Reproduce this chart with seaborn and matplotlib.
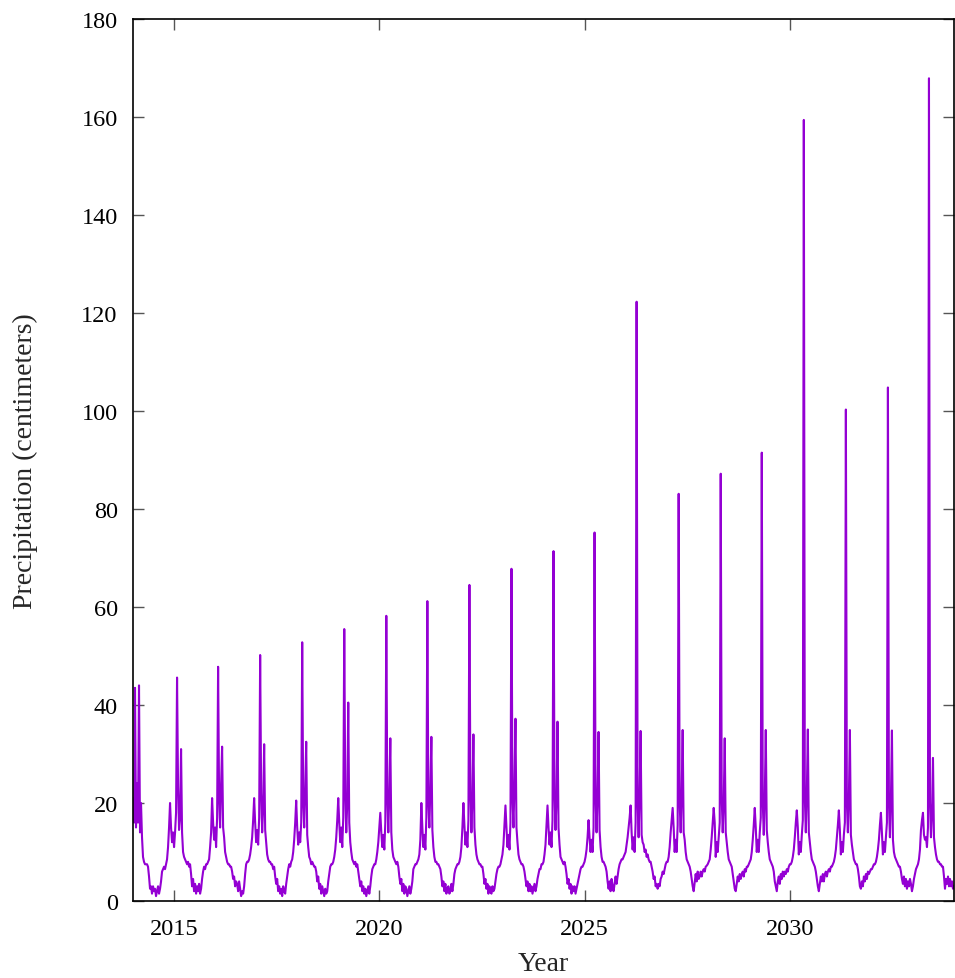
import numpy as np
import pandas as pd
import matplotlib
matplotlib.use("Agg")
import matplotlib.pyplot as plt
import seaborn as sns

# Regular time grid: samples per year, starting 2014.0
start_year = 2014
samples_per_year = 41

# Precipitation (cm), one list per rainy-season cycle
lead_in = [21, 16]
season_2014 = [43.5, 15, 24, 16, 44, 14, 20, 13, 9, 8, 7.5, 7.5, 7.5, 7, 5, 2.5, 3, 1.5, 3, 2, 2.5, 1, 2, 3, 1.5, 2.5, 4, 6, 6.5, 7, 6.5, 7.5, 8.5, 11, 15, 20, 15, 12, 14, 11, 14, 18]
season_2015 = [45.6, 23.5, 14.5, 17, 31, 14, 10, 9, 8.5, 8, 7.5, 8, 7, 7.5, 5.5, 3, 4.5, 2, 3.5, 1.5, 3, 2, 3.5, 1.5, 2.5, 4.5, 6, 7, 6.5, 7.5, 7.5, 8, 8.5, 11, 14, 21, 16, 12.5, 15, 11, 17]
season_2016 = [47.8, 21, 15, 24, 31.5, 15, 13, 10, 9, 8, 7.5, 7.5, 7, 7, 6, 4.5, 5, 3, 4, 3.5, 2, 4, 2.5, 1, 2, 1.5, 3, 5.5, 7.5, 8, 8, 8.5, 9.5, 11, 13, 16.5, 21, 16, 12, 14.5, 11.5, 17]
season_2017 = [50.2, 22, 14, 19, 32, 14.5, 12, 9.5, 8.5, 8, 8, 7.5, 7.5, 6.5, 7, 5, 3.5, 4.5, 2, 3, 1.5, 2.5, 1, 3, 2, 1.5, 3.5, 5, 6.5, 7.5, 7, 8, 8.5, 10, 12.5, 16, 20.5, 15, 11.5, 14, 12, 16]
season_2018 = [52.8, 20, 15, 23, 32.5, 13.5, 11, 9, 8.5, 7.5, 8, 7.5, 7, 7, 6, 4, 5, 2.5, 3.5, 1.5, 3, 2, 1, 2.5, 1.5, 2, 4, 5.5, 7, 7.5, 7.5, 8, 9, 10.5, 13, 16.5, 21, 16, 12, 15, 11, 17]
season_2019 = [55.5, 22, 14, 20, 40.5, 16, 12, 10, 8.5, 8, 7.5, 8, 7, 7.5, 6, 4.5, 3, 4, 2, 3, 1.5, 2.5, 1, 2, 3, 1.5, 3, 5, 6.5, 7, 7.5, 7.5, 8.5, 10, 12, 15, 18, 14, 11, 13.5, 10.5, 16]
season_2020 = [58.2, 21, 14, 22, 33.2, 14, 10.5, 9, 8.5, 8, 7.5, 8, 7, 5, 3.5, 4.5, 2, 3.5, 1.5, 3, 2.5, 1, 2, 3, 1.5, 2.5, 4, 6.5, 7, 7.5, 7.5, 8, 8.5, 9.5, 12.5, 20, 15, 11, 13.5, 10.5, 17]
season_2021 = [61.2, 20, 15, 23, 33.5, 14.5, 11, 9, 8, 8, 7.5, 7.5, 7, 6.5, 5, 3, 4, 2, 3.5, 1.5, 2.5, 3, 1.5, 2, 3.5, 2, 3.5, 5.5, 6.5, 7, 7.5, 7.5, 8, 9, 11, 15, 20, 15.5, 11.5, 14, 11, 16.5]
season_2022 = [64.5, 22, 14, 21, 34, 15, 11.5, 9.5, 8.5, 8, 7.5, 7.5, 7, 7, 5.5, 3.5, 4.5, 2.5, 3.5, 1.5, 3, 2, 1.5, 3, 2, 2.5, 4, 5.5, 6.5, 7, 7, 7.5, 8.5, 9.5, 11.5, 15.5, 19.5, 15, 11, 13.5, 10.5, 16]
season_2023 = [67.8, 21, 15, 24, 37.2, 15, 12, 9.5, 8.5, 8, 7.5, 7.5, 7, 6, 4.5, 3, 4, 2, 3.5, 2, 3, 1.5, 2.5, 3.5, 2, 3, 4.5, 5.5, 6.5, 6.5, 7.5, 7.5, 8, 9.5, 11.5, 15.5, 19.5, 15, 11.5, 14, 11, 16.5]
season_2024 = [71.4, 22, 14.5, 21, 36.6, 15, 11.5, 9, 8.5, 8, 7.5, 8, 7, 5.5, 3.5, 4.5, 2.5, 3.5, 1.5, 3, 2, 3, 1.5, 2.5, 3.5, 4.5, 5.5, 6.5, 7, 7, 7.5, 8, 9, 10.5, 13, 16.5, 13, 10, 12.5, 10, 15]
season_2025 = [75.2, 21, 14, 22, 34.5, 14.5, 11, 9, 8, 8, 7.5, 7, 6, 4, 2.5, 4, 2, 4.5, 3, 2, 3.5, 5, 3.5, 5, 6.5, 7.5, 8, 8.5, 8.5, 9, 9.5, 10, 11.5, 13, 15, 17, 19.5, 14, 10.5, 13, 10, 16]
season_2026 = [122.3, 20, 13, 22, 34.7, 13.5, 12, 11.5, 10, 10.5, 9, 9.5, 8.5, 8, 8, 7, 6, 4.5, 5, 3, 3.5, 2.5, 3.5, 3, 4.5, 5, 6, 5.5, 6.5, 7.5, 8, 8, 9, 11, 14, 16.5, 19, 15, 10, 12.5, 10, 15.5]
season_2027 = [83.1, 20, 14, 22, 34.9, 14, 12.5, 10, 8.5, 8, 7.5, 7, 6, 4.5, 3, 2, 3.8, 5.5, 4, 6, 4.5, 5, 6, 5, 6, 6.5, 6, 7, 7.2, 7.5, 8, 8.5, 10.5, 13, 16, 19, 16, 9, 12, 10, 13, 16]
season_2028 = [87.2, 21, 14, 20, 33.2, 14, 12, 10, 8.5, 8, 7.5, 7, 5.5, 4, 2.5, 2, 3.5, 5, 4, 5.5, 4.5, 5.5, 6, 5, 6.5, 6, 7, 7, 7.5, 8, 8.5, 10, 12.5, 15.5, 19, 15, 10, 12.5, 10, 14, 17]
season_2029 = [91.5, 20, 13.5, 21, 34.9, 14.5, 12, 10, 8.5, 8, 7.5, 7, 6, 4, 3, 2, 4, 5, 3.5, 5.5, 4.5, 6, 5, 6, 5.5, 6.5, 6, 7, 7.5, 7.5, 8, 9, 10.5, 13, 16, 18.5, 15, 9.5, 12, 10, 13.5, 16.5]
season_2030 = [159.4, 21, 14, 22, 35, 14, 12, 10, 8.5, 8, 7.5, 7, 6, 4.5, 3, 2, 3.5, 5, 4, 5.5, 4, 5.5, 6, 5, 6, 6.5, 6, 7, 7, 7.5, 8, 9, 10.5, 13, 15.5, 18.5, 14.5, 9.5, 12, 10, 13.5, 16]
season_2031 = [100.3, 20, 14, 21, 34.9, 13.5, 11.5, 10, 8.5, 8, 7.5, 7.5, 6.5, 5, 3, 2.5, 4, 3, 5, 4, 5.5, 4.5, 6, 5.5, 6, 6.5, 6.5, 7, 7.5, 7.5, 8, 9, 10.5, 12.5, 15.5, 18, 14, 9.5, 12, 10, 13, 16]
season_2032 = [104.8, 20, 13, 21, 34.8, 12.5, 10, 9, 8.5, 8, 7.5, 7, 7, 6, 4.5, 3.5, 5, 3, 4.5, 2.5, 4, 3, 4.5, 3.5, 2, 3, 4.5, 5.5, 6.5, 7, 7.5, 8.5, 10.5, 14.5, 16.5, 18, 13.5, 12.5, 13, 11, 15]
season_2033 = [167.9, 20, 13, 18, 29.2, 13, 11, 9.5, 8.5, 8, 8, 7.5, 7.5, 7, 7, 5, 2.5, 4.5, 3.5, 5, 3, 4.5, 3, 4, 2.5, 3]

seasons = [season_2014, season_2015, season_2016, season_2017, season_2018,
           season_2019, season_2020, season_2021, season_2022, season_2023,
           season_2024, season_2025, season_2026, season_2027, season_2028,
           season_2029, season_2030, season_2031, season_2032, season_2033]

x_ticks = [2015, 2020, 2025, 2030]
y_ticks = [0, 20, 40, 60, 80, 100, 120, 140, 160, 180]

precip = list(lead_in)
for s in seasons:
    precip.extend(s)
precip = np.array(precip, dtype=float)
years = start_year + np.arange(len(precip)) / samples_per_year
df = pd.DataFrame({"Year": years, "Precipitation": precip})

sns.set_style("ticks")
plt.rcParams['font.family'] = ['Liberation Serif', 'DejaVu Serif']

W, H = 955, 979
fig = plt.figure(figsize=(W / 100, H / 100), dpi=100)
ax = fig.add_axes([133 / W, 1 - 902 / H, 821 / W, 882 / H])

sns.lineplot(data=df, x="Year", y="Precipitation", color="#9400d3",
             linewidth=1.5, estimator=None, ax=ax)

ax.set_xlim(2014, 2034)
ax.set_ylim(0, 180)
ax.set_xticks(x_ticks)
ax.set_xticklabels([str(t) for t in x_ticks])
ax.set_yticks(y_ticks)
ax.set_yticklabels([str(t) for t in y_ticks])
ax.tick_params(direction="in", length=8, width=1, color="#555555",
               labelcolor="black", labelsize=17.5, top=True, right=True)
ax.tick_params(axis="y", pad=11)
ax.tick_params(axis="x", pad=12)
for sp in ax.spines.values():
    sp.set_visible(True)
    sp.set_color("black")
    sp.set_linewidth(1.2)

ax.set_xlabel("Year", fontsize=20)
ax.set_ylabel("Precipitation (centimeters)", fontsize=20)
ax.xaxis.set_label_coords(0.5, -0.057)
ax.yaxis.set_label_coords(-0.116, 0.5)

fig.savefig("out.png", dpi=100)
